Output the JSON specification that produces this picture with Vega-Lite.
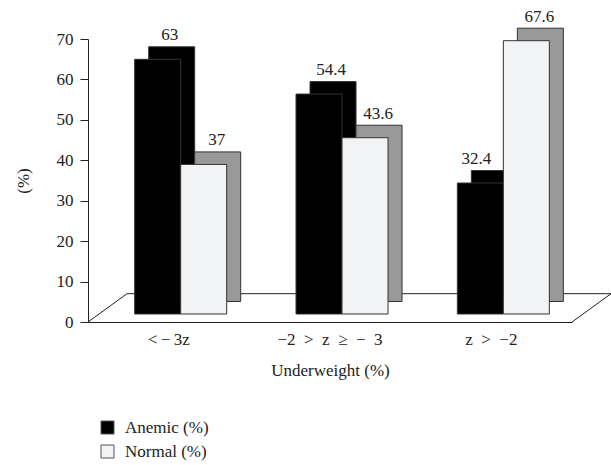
{
  "$schema": "https://vega.github.io/schema/vega-lite/v6.json",
  "width": 484,
  "height": 283,
  "autosize": {"type": "none"},
  "padding": {"left": 88, "top": 39, "right": 39, "bottom": 143},
  "background": "white",
  "config": {
    "font": "Liberation Serif",
    "view": {"stroke": null},
    "axis": {"labelFont": "Liberation Serif", "titleFont": "Liberation Serif", "labelColor": "#222", "titleColor": "#222"},
    "legend": {"labelFont": "Liberation Serif"}
  },
  "data": {
    "values": [
      {"group": "<−3z", "series": "Anemic (%)", "value": 63},
      {"group": "<−3z", "series": "Normal (%)", "value": 37},
      {"group": "−2 > z ≥ − 3", "series": "Anemic (%)", "value": 54.4},
      {"group": "−2 > z ≥ − 3", "series": "Normal (%)", "value": 43.6},
      {"group": "z > −2", "series": "Anemic (%)", "value": 32.4},
      {"group": "z > −2", "series": "Normal (%)", "value": 67.6}
    ]
  },
  "layer": [
    {
      "data": {"values": [{"edge": "floor"}]},
      "layer": [
        {
          "mark": {"type": "rule", "color": "#222", "strokeWidth": 1, "xOffset": 39, "x2Offset": 39},
          "encoding": {
            "x": {"datum": 0, "type": "quantitative", "scale": {"domain": [0, 1]}, "axis": null},
            "x2": {"datum": 1},
            "y": {"datum": 7, "type": "quantitative"}
          }
        },
        {
          "mark": {"type": "rule", "color": "#222", "strokeWidth": 1, "x2Offset": 39},
          "encoding": {
            "x": {"datum": 0, "type": "quantitative", "scale": {"domain": [0, 1]}, "axis": null},
            "x2": {"datum": 0},
            "y": {"datum": 0, "type": "quantitative"},
            "y2": {"datum": 7}
          }
        },
        {
          "mark": {"type": "rule", "color": "#222", "strokeWidth": 1, "x2Offset": 39},
          "encoding": {
            "x": {"datum": 1, "type": "quantitative", "scale": {"domain": [0, 1]}, "axis": null},
            "x2": {"datum": 1},
            "y": {"datum": 0, "type": "quantitative"},
            "y2": {"datum": 7}
          }
        }
      ]
    },
    {
      "encoding": {
        "x": {
          "field": "group",
          "type": "nominal",
          "sort": ["<−3z", "−2 > z ≥ − 3", "z > −2"],
          "scale": {"paddingInner": 0.43, "paddingOuter": 0.215},
          "axis": {
            "title": "Underweight (%)",
            "labelAngle": 0,
            "ticks": false,
            "domainColor": "#222",
            "labelFontSize": 17,
            "labelPadding": 9,
            "labelExpr": "datum.label === '<−3z' ? '<\u2009−\u20093z' : replace(datum.label, / /g, '\u2002')",
            "titleFontSize": 17,
            "titleFontWeight": "normal",
            "titlePadding": 15
          }
        },
        "y": {
          "field": "value",
          "type": "quantitative",
          "scale": {"domain": [0, 70], "nice": false},
          "axis": {
            "title": "(%)",
            "grid": false,
            "values": [0, 10, 20, 30, 40, 50, 60, 70],
            "domainColor": "#222",
            "tickColor": "#222",
            "tickSize": 8,
            "labelFontSize": 17,
            "labelPadding": 7,
            "titleFontSize": 17,
            "titleFontWeight": "normal",
            "titlePadding": 24
          }
        }
      },
      "layer": [
        {
          "mark": {"type": "bar", "yOffset": -20.5, "stroke": "#333", "strokeWidth": 1},
          "encoding": {
            "xOffset": {"field": "series", "type": "nominal", "sort": ["Anemic (%)", "Normal (%)"], "scale": {"range": [26, 118], "paddingInner": 0, "paddingOuter": 0}},
            "fill": {"condition": {"test": "datum.series === 'Anemic (%)'", "value": "#000000"}, "value": "#999999"}
          }
        },
        {
          "mark": {"type": "bar", "yOffset": -8, "stroke": "#333", "strokeWidth": 1},
          "encoding": {
            "xOffset": {"field": "series", "type": "nominal", "sort": ["Anemic (%)", "Normal (%)"], "scale": {"range": [12, 104], "paddingInner": 0, "paddingOuter": 0}},
            "fill": {
              "field": "series",
              "type": "nominal",
              "scale": {"domain": ["Anemic (%)", "Normal (%)"], "range": ["#000000", "#f2f3f5"]},
              "legend": {
                "title": null,
                "orient": "none",
                "legendX": 11,
                "legendY": 380,
                "symbolType": "square",
                "symbolSize": 169,
                "symbolStrokeColor": "#555",
                "symbolStrokeWidth": 1,
                "labelFontSize": 17,
                "labelColor": "#222",
                "rowPadding": 6,
                "labelOffset": 9
              }
            }
          }
        },
        {
          "transform": [{"filter": "datum.value !== 32.4"}],
          "mark": {"type": "text", "dy": -32, "baseline": "middle", "align": "center", "fontSize": 17, "color": "#222"},
          "encoding": {
            "xOffset": {"field": "series", "type": "nominal", "scale": {"type": "point", "padding": 0, "domain": ["Anemic (%)", "Normal (%)"], "range": [47, 94]}},
            "text": {"field": "value", "type": "quantitative"}
          }
        },
        {
          "transform": [{"filter": "datum.value === 32.4"}],
          "mark": {"type": "text", "dy": -32, "baseline": "middle", "align": "center", "fontSize": 17, "color": "#222"},
          "encoding": {
            "xOffset": {"field": "series", "type": "nominal", "scale": {"type": "point", "padding": 0, "domain": ["Anemic (%)", "Normal (%)"], "range": [31, 78]}},
            "text": {"field": "value", "type": "quantitative"}
          }
        }
      ],
      "resolve": {"scale": {"xOffset": "independent"}}
    }
  ],
  "resolve": {"scale": {"x": "independent"}}
}
